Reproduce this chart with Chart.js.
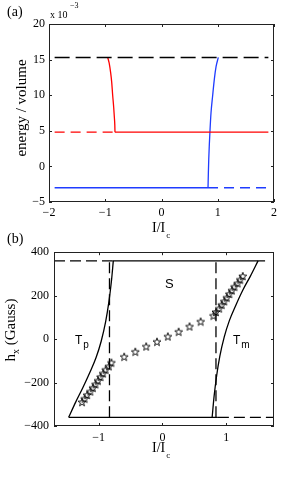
<!DOCTYPE html>
<html><head><meta charset="utf-8">
<script src="https://cdn.jsdelivr.net/npm/chart.js@4"></script>
<style>
html,body{margin:0;padding:0;background:#fff;width:304px;height:479px;overflow:hidden;}
#wrap{position:relative;width:304px;height:479px;}
canvas{position:absolute;left:0;}
.t{position:absolute;font-family:'Liberation Serif','Times New Roman',serif;color:#000;white-space:nowrap;line-height:1;}
.s{position:absolute;font-family:'Liberation Sans',Arial,sans-serif;color:#000;white-space:nowrap;line-height:1;}
.rot{transform:translate(-50%,-50%) rotate(-90deg);}
</style></head><body>
<div id="wrap">
<canvas id="ca" width="304" height="240" style="top:0;width:304px;height:240px"></canvas>
<canvas id="cb" width="304" height="239" style="top:240px;width:304px;height:239px"></canvas>

<div class="t" style="left:7px;top:5px;font-size:14px">(a)</div>
<div class="t" style="left:50px;top:10px;font-size:10px">x 10</div>
<div class="t" style="left:70px;top:2px;font-size:8px">−3</div>
<div class="t rot" style="left:21px;top:108px;font-size:15px">energy / volume</div>
<div class="t" style="left:152px;top:221px;font-size:14px">I/I<span style="font-size:9px;position:relative;top:6px;left:1px">c</span></div>

<div class="t" style="left:7px;top:232px;font-size:14px">(b)</div>
<div class="t rot" style="left:10px;top:330px;font-size:15px">h<span style="font-size:10px;position:relative;top:4px">x</span> (Gauss)</div>
<div class="t" style="left:152px;top:441px;font-size:14px">I/I<span style="font-size:9px;position:relative;top:6px;left:1px">c</span></div>
<div class="s" style="left:165px;top:277px;font-size:13px">S</div>
<div class="s" style="left:75px;top:334px;font-size:12px">T<span style="font-size:10px;position:relative;top:4px;left:1px">p</span></div>
<div class="s" style="left:233px;top:334px;font-size:12px">T<span style="font-size:10px;position:relative;top:4px;left:1px">m</span></div>
</div>
<script>
// ---------- Panel (a) data (energy in units of 1e-3) ----------
const aXTicks = [-2, -1, 0, 1, 2];
const aYTicks = [-5, 0, 5, 10, 15, 20];
const aBlackDash = [[-1.9, 15.3], [1.9, 15.3]];
const aRedDash = [[-1.9, 4.8], [-0.827, 4.8]];
const aRedSolid = [[-0.827, 4.8], [1.9, 4.8]];
const aRedCurve = [[-0.956, 15.3], [-0.93, 14.5], [-0.903, 13.1], [-0.885, 11.8], [-0.868, 10.0], [-0.85, 8.3], [-0.839, 7.0], [-0.83, 5.8], [-0.827, 4.8]];
const aBlueSolid = [[-1.9, -3.0], [0.827, -3.0]];
const aBlueDash = [[0.827, -3.0], [1.9, -3.0]];
const aBlueCurve = [[0.827, -3.0], [0.833, -1], [0.84, 1], [0.85, 3], [0.862, 5], [0.88, 7.5], [0.91, 10], [0.94, 12.3], [0.97, 14], [1.01, 15.3]];

// ---------- Panel (b) data (Gauss) ----------
const bXTicks = [-1, 0, 1];
const bYTicks = [-400, -200, 0, 200, 400];
const bTopDash = [[-1.7, 360], [-0.78, 360]];
const bTopSolid = [[-0.78, 360], [1.61, 360]];
const bBotSolid = [[-1.47, -360], [0.87, -360]];
const bBotDash = [[0.87, -360], [1.75, -360]];
const bVDashL = [[-0.83, -360], [-0.83, 360]];
const bVDashR = [[0.84, -360], [0.84, 360]];
const bTp = [[-1.47, -360], [-1.36, -290], [-1.25, -225], [-1.14, -155], [-1.04, -85], [-0.96, -10], [-0.89, 80], [-0.84, 170], [-0.80, 265], [-0.77, 360]];
const bTm = [[0.78, -360], [0.81, -265], [0.85, -170], [0.90, -80], [0.97, 10], [1.05, 85], [1.15, 155], [1.26, 225], [1.38, 290], [1.50, 360]];
const bStarsX = [-1.26, -1.22, -1.18, -1.13, -1.09, -1.05, -1.01, -0.97, -0.93, -0.89, -0.84, -0.80,
  -0.6, -0.425, -0.255, -0.085, 0.085, 0.255, 0.425, 0.6,
  0.80, 0.84, 0.89, 0.93, 0.97, 1.01, 1.05, 1.09, 1.13, 1.18, 1.22, 1.26];
const bStarsY = [-290, -274, -257, -241, -224, -208, -191, -174, -158, -141, -125, -108,
  -81, -58, -34, -12, 12, 34, 58, 81,
  108, 125, 141, 158, 174, 191, 208, 224, 241, 257, 274, 290];

const pts = arr => arr.map(p => ({x: p[0], y: p[1]}));
const minus = v => String(v).replace('-', '\u2212');

function starImg() {
  const c = document.createElement('canvas');
  c.width = 10; c.height = 10;
  const g = c.getContext('2d');
  g.beginPath();
  for (let i = 0; i < 10; i++) {
    const r = i % 2 ? 1.7 : 4.2;
    const ang = -Math.PI / 2 + i * Math.PI / 5;
    g.lineTo(5 + r * Math.cos(ang), 5.4 + r * Math.sin(ang));
  }
  g.closePath();
  g.strokeStyle = '#000'; g.lineWidth = 0.9; g.stroke();
  return c;
}

const boxTicks = {
  id: 'boxTicks',
  afterDatasetsDraw(chart) {
    const {ctx, chartArea: a, scales: {x, y}} = chart;
    const L = 3;
    ctx.save();
    ctx.strokeStyle = '#222'; ctx.lineWidth = 1;
    ctx.beginPath();
    x.ticks.forEach(t => {
      const px = Math.round(x.getPixelForValue(t.value)) + 0.5;
      ctx.moveTo(px, a.bottom); ctx.lineTo(px, a.bottom - L);
      ctx.moveTo(px, a.top); ctx.lineTo(px, a.top + L);
    });
    y.ticks.forEach(t => {
      const py = Math.round(y.getPixelForValue(t.value)) + 0.5;
      ctx.moveTo(a.left, py); ctx.lineTo(a.left + L, py);
      ctx.moveTo(a.right, py); ctx.lineTo(a.right - L, py);
    });
    ctx.stroke();
    ctx.strokeRect(Math.round(a.left) + 0.5, Math.round(a.top) + 0.5, Math.round(a.width) - 1, Math.round(a.height) - 1);
    ctx.restore();
  }
};

function line(data, color, dash, w, smooth) {
  const d = {data: pts(data), showLine: true, borderColor: color, borderWidth: w || 1.3,
    borderDash: dash || [], pointRadius: 0, fill: false, tension: 0};
  if (smooth) { d.cubicInterpolationMode = 'monotone'; }
  return d;
}

function makeChart(id, datasets, g) {
  const font = {family: "'Liberation Serif','Times New Roman',serif", size: 12};
  return new Chart(document.getElementById(id), {
    type: 'scatter',
    data: {datasets},
    options: {
      responsive: false, animation: false, events: [],
      layout: {autoPadding: false, padding: {left: 0, right: g.padR, top: g.padT, bottom: 0}},
      plugins: {legend: {display: false}, tooltip: {enabled: false}},
      scales: {
        x: {type: 'linear', min: g.xmin, max: g.xmax,
          grid: {display: false, drawTicks: false}, border: {display: false},
          afterBuildTicks: s => { s.ticks = g.xt.map(v => ({value: v})); },
          afterFit: s => { s.height = g.xh; },
          ticks: {font, color: '#000', padding: g.xpad, maxRotation: 0, autoSkip: false, callback: minus}},
        y: {type: 'linear', min: g.ymin, max: g.ymax,
          grid: {display: false, drawTicks: false}, border: {display: false},
          afterBuildTicks: s => { s.ticks = g.yt.map(v => ({value: v})); },
          afterFit: s => { s.width = g.yw; },
          ticks: {font, color: '#000', padding: g.ypad, autoSkip: false, callback: minus}}
      }
    },
    plugins: [boxTicks]
  });
}

makeChart('ca', [
  line(aBlackDash, '#000', [15, 6], 1.4),
  line(aRedDash, '#ff0000', [10, 6]),
  line(aRedSolid, '#ff0000'),
  line(aRedCurve, '#ff0000', null, 1.3, true),
  line(aBlueSolid, '#1f3cff'),
  line(aBlueDash, '#1f3cff', [10, 6]),
  line(aBlueCurve, '#1f3cff', null, 1.3, true)
], {xmin: -2, xmax: 2, ymin: -5, ymax: 20, xt: aXTicks, yt: aYTicks,
    padR: 30, padT: 24, xh: 38, yw: 49, xpad: 4, ypad: 4});

const star = starImg();
makeChart('cb', [
  line(bTopDash, '#000', [11, 5]),
  line(bTopSolid, '#000'),
  line(bBotSolid, '#000'),
  line(bBotDash, '#000', [11, 5]),
  line(bVDashL, '#000', [11, 5]),
  line(bVDashR, '#000', [11, 5]),
  line(bTp, '#000', null, 1.3, true),
  line(bTm, '#000', null, 1.3, true),
  {data: bStarsX.map((x, i) => ({x, y: bStarsY[i]})), showLine: false,
   pointStyle: star, pointRadius: 4}
], {xmin: -1.7, xmax: 1.75, ymin: -400, ymax: 400, xt: bXTicks, yt: bYTicks,
    padR: 30, padT: 9, xh: 53, yw: 54, xpad: 5, ypad: 5});
</script>
</body></html>
